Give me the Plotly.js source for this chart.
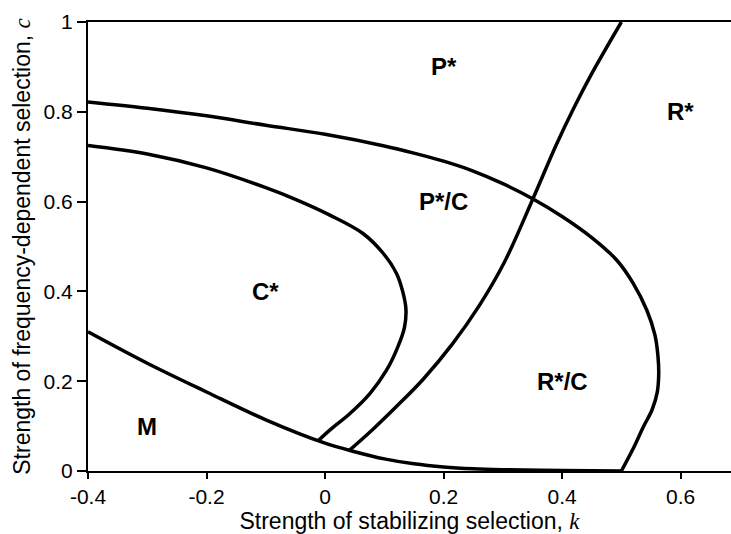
<!DOCTYPE html>
<html>
<head>
<meta charset="utf-8">
<script src="https://cdn.plot.ly/plotly-3.0.1.min.js"></script>
<style>
  html, body { margin: 0; padding: 0; background: #ffffff; }
  #chart { width: 731px; height: 534px; }
</style>
</head>
<body>
<div id="chart"></div>
<script>
// Boundary between P*/C region and P*, R* regions (outer curve)
const outerK = [-0.4, -0.3, -0.2, -0.1, 0.0, 0.1, 0.15, 0.2, 0.25, 0.3, 0.351, 0.4, 0.45, 0.492, 0.520, 0.543, 0.5566, 0.5618, 0.5630, 0.5605, 0.552, 0.537, 0.520, 0.5];
const outerC = [0.822, 0.808, 0.791, 0.770, 0.750, 0.724, 0.708, 0.690, 0.668, 0.640, 0.606, 0.567, 0.520, 0.470, 0.418, 0.358, 0.303, 0.255, 0.215, 0.175, 0.137, 0.098, 0.050, 0.0];

// Boundary of the C* region (inner curve)
const innerK = [-0.4, -0.3, -0.2, -0.1, -0.05, 0.008, 0.064, 0.098, 0.1206, 0.131, 0.1365, 0.134, 0.123, 0.104, 0.076, 0.042, 0.008, -0.012];
const innerC = [0.725, 0.706, 0.675, 0.631, 0.605, 0.570, 0.529, 0.485, 0.440, 0.400, 0.360, 0.320, 0.277, 0.225, 0.173, 0.128, 0.091, 0.067];

// Boundary of the M region (lower curve)
const lowerK = [-0.4, -0.3, -0.2, -0.1, 0.0, 0.05, 0.1, 0.15, 0.2, 0.25, 0.3, 0.4, 0.5];
const lowerC = [0.310, 0.240, 0.176, 0.114, 0.062, 0.043, 0.027, 0.016, 0.009, 0.005, 0.003, 0.001, 0.0];

// Boundary between P and R regions
const prK = [0.041, 0.08, 0.12, 0.166, 0.215, 0.261, 0.303, 0.351, 0.39, 0.42, 0.45, 0.5];
const prC = [0.046, 0.092, 0.143, 0.205, 0.283, 0.370, 0.466, 0.607, 0.726, 0.809, 0.885, 1.0];

// Region labels
const regionLabels = ["P*", "R*", "P*/C", "C*", "M", "R*/C"];
const regionK = [0.2, 0.6, 0.2, -0.1, -0.3, 0.4];
const regionC = [0.9, 0.8, 0.6, 0.4, 0.1, 0.2];

// Tick labels
const xTickVals = [-0.4, -0.2, 0, 0.2, 0.4, 0.6];
const xTickText = ["-0.4", "-0.2", "0", "0.2", "0.4", "0.6"];
const yTickVals = [0, 0.2, 0.4, 0.6, 0.8, 1];
const yTickText = ["0", "0.2", "0.4", "0.6", "0.8", "1"];

const lineStyle = { color: "#000000", width: 3.5, shape: "spline", smoothing: 1 };
const curves = [[outerK, outerC], [innerK, innerC], [lowerK, lowerC], [prK, prC]];
const traces = curves.map(function (p) {
  return { x: p[0], y: p[1], type: "scatter", mode: "lines", line: lineStyle, hoverinfo: "skip", showlegend: false };
});

const font = "Arial, 'Liberation Sans', sans-serif";
const annotations = regionLabels.map(function (t, i) {
  return {
    x: regionK[i], y: regionC[i], xref: "x", yref: "y", text: "<b>" + t + "</b>",
    showarrow: false, xanchor: "center", yanchor: "middle",
    font: { family: font, size: 24, color: "#000000" }
  };
});

const layout = {
  width: 731, height: 534,
  margin: { l: 88, r: 0, t: 22, b: 63, pad: 0 },
  paper_bgcolor: "#ffffff", plot_bgcolor: "#ffffff",
  showlegend: false,
  font: { family: font, color: "#000000" },
  xaxis: {
    range: [-0.4, 0.685], showgrid: false, zeroline: false,
    showline: true, linecolor: "#000000", linewidth: 2, mirror: true,
    ticks: "outside", ticklen: 6, tickwidth: 2, tickcolor: "#000000",
    tickvals: xTickVals, ticktext: xTickText,
    tickfont: { family: font, size: 21, color: "#000000" },
    title: { text: "Strength of stabilizing selection, <i><span style=\"font-family:Liberation Serif\">k</span></i>",
             font: { family: font, size: 23, color: "#000000" }, standoff: 7 }
  },
  yaxis: {
    range: [0, 1], showgrid: false, zeroline: false,
    showline: true, linecolor: "#000000", linewidth: 2,
    ticks: "outside", ticklen: 9, tickwidth: 2, tickcolor: "#000000",
    tickvals: yTickVals, ticktext: yTickText,
    tickfont: { family: font, size: 21, color: "#000000" },
    title: { text: "Strength of frequency-dependent selection, <i><span style=\"font-family:Liberation Serif\">c</span></i>",
             font: { family: font, size: 23, color: "#000000" }, standoff: 7 }
  },
  annotations: annotations
};

Plotly.newPlot("chart", traces, layout, { displayModeBar: false, staticPlot: true });
</script>
</body>
</html>
